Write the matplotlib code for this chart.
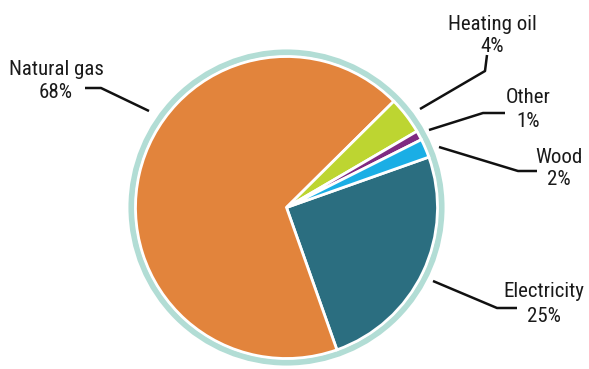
import matplotlib.pyplot as plt
from matplotlib import font_manager
from matplotlib.patches import Circle

# data (clockwise from the Electricity slice)
labels = ["Electricity", "Natural gas", "Heating oil", "Other", "Wood"]
shares = [25, 68, 4, 1, 2]
colors = ["#2b6e80", "#e2843c", "#bdd531", "#7f2a82", "#1aaee5"]

W, H = 589, 369

# pick a narrow font if one is around
installed = {f.name for f in font_manager.fontManager.ttflist}
narrow = [n for n in ["Roboto Condensed", "Liberation Sans Narrow", "Open Sans Condensed",
                      "DejaVu Sans Condensed"] if n in installed]
if narrow:
    FONT = [narrow[0], "DejaVu Sans"]
    FSIZE = 15
else:
    FONT = ["Liberation Sans", "DejaVu Sans"]
    FSIZE = 13

# label: x centre, baseline of name, baseline of percent, leader line points (px from top-left)
label_layout = {
    "Natural gas": (56, 75, 98, [(85, 88), (101, 88), (149, 111)]),
    "Heating oil": (492, 30, 52, [(487, 55), (485, 71), (420, 109)]),
    "Other": (528, 103, 127, [(429, 130), (483, 113), (505, 113)]),
    "Wood": (559, 163, 185, [(439, 147), (518, 171), (537, 171)]),
    "Electricity": (544, 297, 322, [(433, 281), (497, 308), (517, 308)]),
}


def fy(y):
    return H - y


fig = plt.figure(figsize=(W / 100, H / 100), dpi=100)
ax = fig.add_axes([0, 0, 1, 1])

cx, cy = 286.5, fy(207.5)

# light teal outer ring
ax.add_patch(Circle((cx, cy), 155, facecolor="none", edgecolor="#b2ddd5", lw=4.4))

ax.pie(shares, colors=colors, startangle=19.5, counterclock=False,
       center=(cx, cy), radius=151,
       wedgeprops=dict(edgecolor="white", linewidth=2.0))
ax.set_xlim(0, W)
ax.set_ylim(0, H)
ax.set_aspect("equal")
ax.axis("off")

for name, pct in zip(labels, shares):
    tx, b1, b2, pts = label_layout[name]
    ax.text(tx, fy(b1), name, ha="center", va="baseline",
            fontsize=FSIZE, family=FONT, color="#1a1a1a")
    ax.text(tx, fy(b2), f"{pct}%", ha="center", va="baseline",
            fontsize=FSIZE, family=FONT, color="#1a1a1a")
    ax.plot([p[0] for p in pts], [fy(p[1]) for p in pts], color="#111111", lw=1.8,
            solid_capstyle="butt")

fig.savefig("out.png", dpi=100)
